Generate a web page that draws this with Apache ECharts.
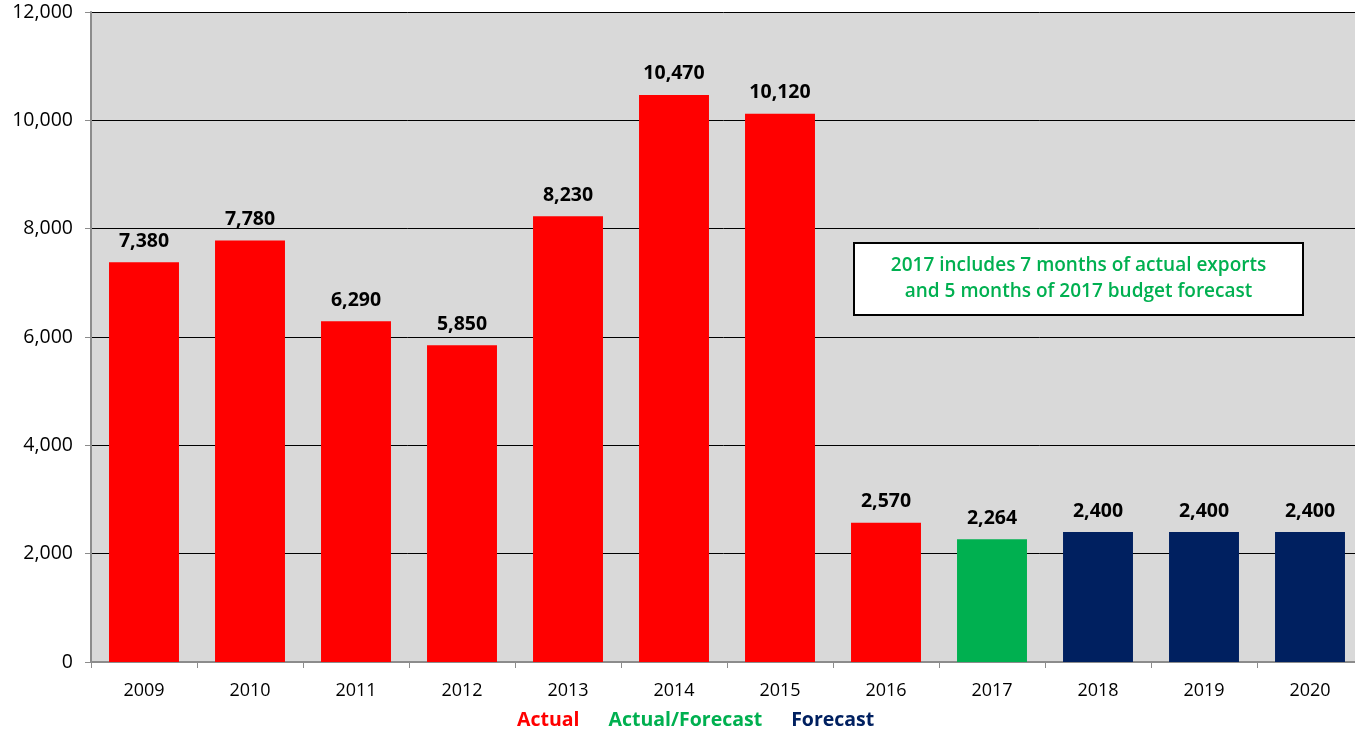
<!DOCTYPE html>
<html><head><meta charset="utf-8">
<script src="https://cdn.jsdelivr.net/npm/echarts@6/dist/echarts.min.js"></script>
<style>html,body{margin:0;padding:0;background:#fff}#c{width:1355px;height:733px;overflow:hidden}</style>
</head><body><div id="c"></div>
<script>
const years = ['2009','2010','2011','2012','2013','2014','2015','2016','2017','2018','2019','2020'];
const actual = [7380,7780,6290,5850,8230,10470,10120,2570,null,null,null,null];
const actualForecast = [null,null,null,null,null,null,null,null,2264,null,null,null];
const forecast = [null,null,null,null,null,null,null,null,null,2400,2400,2400];
const yTicks = [0,2000,4000,6000,8000,10000,12000];
const note = ['2017 includes 7 months of actual exports','and 5 months of 2017 budget forecast'];

const font = '"Open Sans", sans-serif';
const lbl = {show:true, position:'top', distance:11, fontFamily:font, fontWeight:'bold', fontSize:19.5, color:'#000',
  formatter: p => p.value == null ? '' : p.value.toLocaleString('en-US')};
function s(name, data, color){
  return {name, type:'bar', stack:'t', data, barWidth:'66%', itemStyle:{color}, label:lbl};
}
const chart = echarts.init(document.getElementById('c'));
chart.setOption({
  animation:false,
  grid:{left:91, top:12, width:1272, bottom:71, outerBoundsMode:'none', containLabel:false,
    show:true, backgroundColor:'#D9D9D9', borderWidth:0},
  legend:{bottom:-2, left:507, icon:'none', itemGap:24, itemWidth:0,
    textStyle:{fontFamily:font, fontWeight:'bold', fontSize:19.5},
    data:[{name:'Actual', textStyle:{color:'#FF0000'}},{name:'Actual/Forecast', textStyle:{color:'#00B050'}},{name:'Forecast', textStyle:{color:'#002060'}}]},
  xAxis:{type:'category', data:years,
    axisLine:{lineStyle:{color:'#8C8C8C', width:2}},
    axisTick:{show:true, length:6, lineStyle:{color:'#8C8C8C'}},
    axisLabel:{fontFamily:font, fontSize:18, color:'#000', margin:20}},
  yAxis:{type:'value', min:yTicks[0], max:yTicks[yTicks.length-1], interval:2000,
    axisLine:{show:true, lineStyle:{color:'#8C8C8C', width:2}},
    axisTick:{show:true, length:6, lineStyle:{color:'#8C8C8C'}},
    splitLine:{lineStyle:{color:'#000', width:1}},
    axisLabel:{fontFamily:font, fontSize:19.5, color:'#000', margin:18,
      formatter: v => v.toLocaleString('en-US')}},
  series:[s('Actual', actual, '#FF0000'), s('Actual/Forecast', actualForecast, '#00B050'), s('Forecast', forecast, '#002060')],
  graphic:[{type:'group', left:853, top:242, children:[
    {type:'rect', shape:{x:0,y:0,width:449,height:72}, style:{fill:'#fff', stroke:'#000', lineWidth:2}},
    {type:'text', x:224.5, y:36, style:{text:note.join('\n'), align:'center', verticalAlign:'middle',
      fill:'#00B050', font:'600 19px "Open Sans", sans-serif', lineHeight:26}}
  ]}]
});
</script></body></html>
